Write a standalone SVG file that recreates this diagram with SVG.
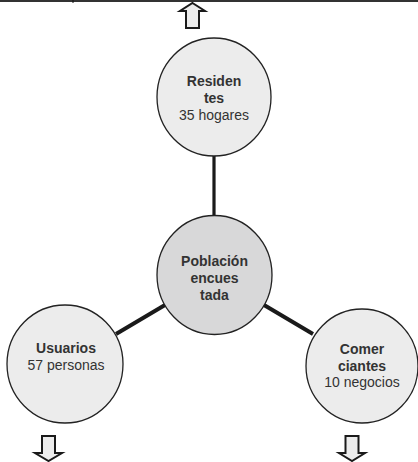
<svg xmlns="http://www.w3.org/2000/svg" width="418" height="462" viewBox="0 0 418 462">
  <style>
    .node { stroke: #222; stroke-width: 1.3; }
    .outer { fill: #ececec; }
    .core { fill: #d8d8d9; }
    .link { stroke: #1a1a1a; stroke-linecap: butt; fill: none; }
    .arrow { fill: #ececec; stroke: #1a1a1a; stroke-width: 2; stroke-linejoin: miter; }
    text { font-family: "Liberation Sans", Arial, sans-serif; font-size: 14px; fill: #333; text-anchor: middle; }
    .b { font-weight: bold; }
  </style>

  <!-- top border rule -->
  <g id="border">
    <line x1="0" y1="1" x2="418" y2="1" stroke="#333" stroke-width="2.2"/>
    <line x1="73" y1="0" x2="73" y2="3" stroke="#111" stroke-width="1"/>
  </g>

  <!-- connectors -->
  <g id="connectors">
    <line class="link" x1="214" y1="155" x2="214" y2="216" stroke-width="3.2"/>
    <line class="link" x1="165" y1="305" x2="116" y2="334" stroke-width="4"/>
    <line class="link" x1="264" y1="305" x2="313" y2="334" stroke-width="4"/>
  </g>

  <!-- flow arrows -->
  <g id="arrows">
    <path class="arrow" d="M192.5,3 L205,11 L199,11 L199,28 L186,28 L186,11 L180,11 Z"/>
    <path class="arrow" d="M42,436 L55,436 L55,453 L62,453 L48.5,461 L35,453 L42,453 Z"/>
    <path class="arrow" d="M345.5,436 L358.5,436 L358.5,453 L365,453 L352,461 L339,453 L345.5,453 Z"/>
  </g>

  <g id="residentes">
    <ellipse class="node outer" cx="214" cy="97" rx="57" ry="59"/>
    <text class="b" x="214" y="86">Residen</text>
    <text class="b" x="214" y="103">tes</text>
    <text x="214" y="120">35 hogares</text>
  </g>

  <g id="poblacion">
    <ellipse class="node core" cx="214.5" cy="275" rx="57.5" ry="59.5"/>
    <text class="b" x="214.5" y="266">Población</text>
    <text class="b" x="214.5" y="283">encues</text>
    <text class="b" x="214.5" y="300">tada</text>
  </g>

  <g id="usuarios">
    <ellipse class="node outer" cx="65" cy="364" rx="58" ry="59"/>
    <text class="b" x="66" y="353">Usuarios</text>
    <text x="66" y="370">57 personas</text>
  </g>

  <g id="comerciantes">
    <ellipse class="node outer" cx="362" cy="366" rx="56" ry="57"/>
    <text class="b" x="362" y="354">Comer</text>
    <text class="b" x="362" y="371">ciantes</text>
    <text x="362" y="387">10 negocios</text>
  </g>
</svg>
